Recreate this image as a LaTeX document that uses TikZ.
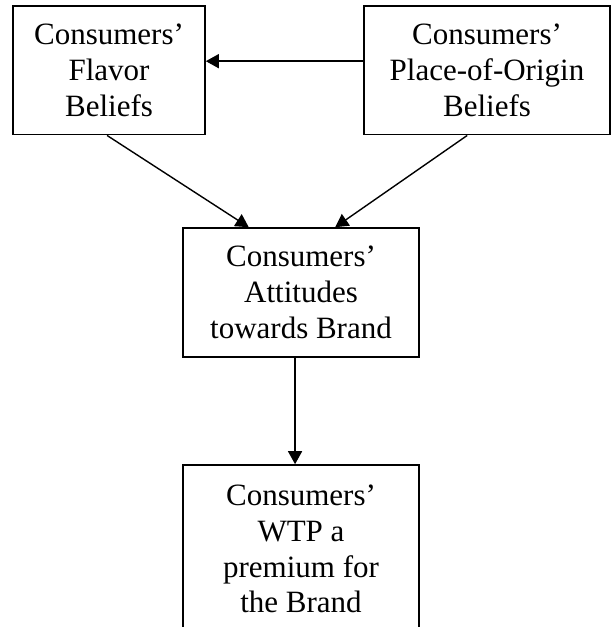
\documentclass[tikz,border=0pt]{standalone}
\usepackage{fontspec}
\setmainfont{Liberation Serif}
\usetikzlibrary{calc,arrows.meta}
\begin{document}
\begin{tikzpicture}[x=1pt,y=-1pt,
  box/.style={draw=black,line width=1.6pt,rectangle,inner sep=0pt,align=center,
    font=\fontsize{31}{35.7}\selectfont},
  link/.style={line width=1.4pt,-{Triangle[length=13pt,width=14pt]}}]
\useasboundingbox (0,0) rectangle (612,627);
\begin{scope}
\clip (0,0) rectangle (612,627);
\node[box,minimum width=192pt,minimum height=128.7pt] (f) at (109,70.3) {Consumers'\\Flavor\\Beliefs};
\node[box,minimum width=246pt,minimum height=128.7pt] (p) at (487,70.3) {Consumers'\\Place-of-Origin\\Beliefs};
\node[box,minimum width=236pt,minimum height=129pt] (a) at (301,292.5) {Consumers'\\Attitudes\\towards Brand};
\node[box,minimum width=236pt,minimum height=168pt] (w) at (301,549) {Consumers'\\WTP a\\premium for\\the Brand};
\coordinate (ps) at ($(p.north west)!0.43!(p.south west)$);
\draw[link] (ps) -- (ps -| f.east);
\draw[link] ($(f.south west)!0.49!(f.south east)$) -- ($(a.north west)!0.28!(a.north east)$);
\draw[link] ($(p.south west)!0.42!(p.south east)$) -- ($(a.north west)!0.644!(a.north east)$);
\coordinate (as) at ($(a.south west)!0.475!(a.south east)$);
\draw[link] (as) -- (as |- w.north);
\end{scope}
\end{tikzpicture}
\end{document}
